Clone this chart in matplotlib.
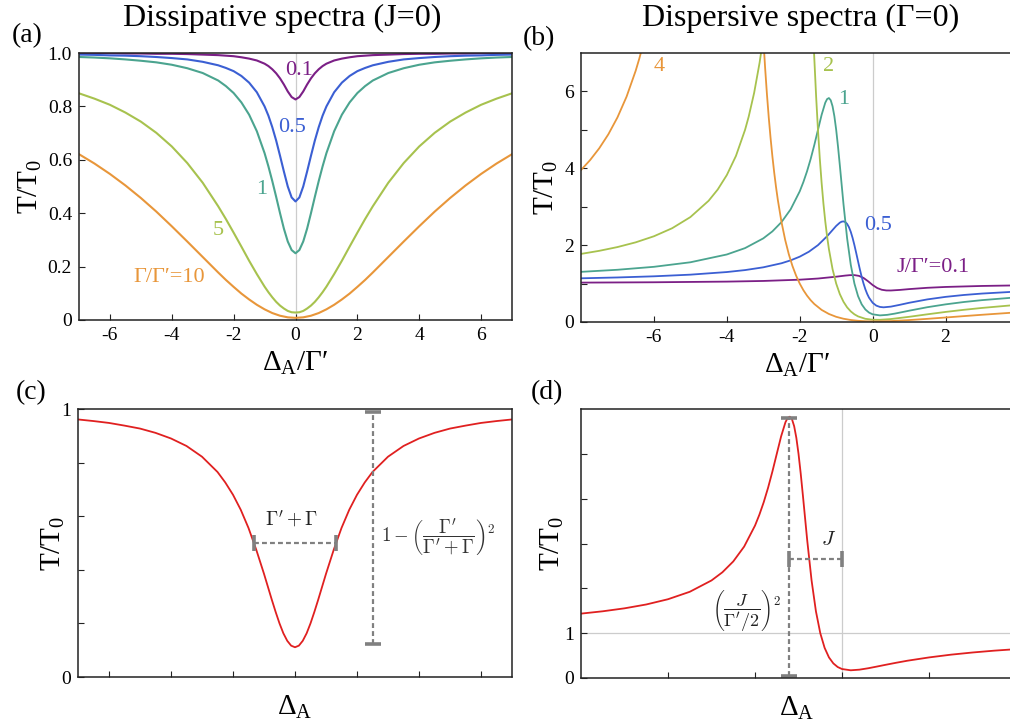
import matplotlib
matplotlib.use('Agg')
import matplotlib.pyplot as plt

# ---- data (T/T0 versus detuning) ----
# (a) dissipative spectra, J=0, labelled by Gamma/Gamma'
x_a = [-7, -6.5, -6, -5.5, -5, -4.5, -4, -3.5, -3, -2.5, -2.25, -2, -1.75, -1.5, -1.25, -1,
       -0.875, -0.75, -0.625, -0.5, -0.375, -0.25, -0.125, 0, 0.125, 0.25, 0.375, 0.5, 0.625, 0.75,
       0.875, 1, 1.25, 1.5, 1.75, 2, 2.25, 2.5, 3, 3.5, 4, 4.5, 5, 5.5, 6, 6.5, 7]
t_g01 = [0.999, 0.999, 0.999, 0.998, 0.998, 0.997, 0.997, 0.996, 0.994, 0.992, 0.990, 0.988, 0.984, 0.979,
         0.972, 0.960, 0.951, 0.939, 0.924, 0.905, 0.882, 0.856, 0.835, 0.826,
         0.835, 0.856, 0.882, 0.905, 0.924, 0.939, 0.951, 0.960, 0.972, 0.979, 0.984, 0.988, 0.990, 0.992,
         0.994, 0.996, 0.997, 0.997, 0.998, 0.998, 0.999, 0.999, 0.999]
t_g05 = [0.994, 0.993, 0.991, 0.990, 0.988, 0.985, 0.981, 0.976, 0.967, 0.954, 0.944, 0.932, 0.914, 0.889,
         0.853, 0.800, 0.765, 0.722, 0.672, 0.615, 0.556, 0.500, 0.459, 0.444,
         0.459, 0.500, 0.556, 0.615, 0.672, 0.722, 0.765, 0.800, 0.853, 0.889, 0.914, 0.932, 0.944, 0.954,
         0.967, 0.976, 0.981, 0.985, 0.988, 0.990, 0.991, 0.993, 0.994]
t_g1 = [0.985, 0.983, 0.980, 0.976, 0.971, 0.965, 0.956, 0.943, 0.925, 0.897, 0.876, 0.850, 0.815, 0.769,
        0.707, 0.625, 0.575, 0.520, 0.461, 0.400, 0.342, 0.294, 0.262, 0.250,
        0.262, 0.294, 0.342, 0.400, 0.461, 0.520, 0.575, 0.625, 0.707, 0.769, 0.815, 0.850, 0.876, 0.897,
        0.925, 0.943, 0.956, 0.965, 0.971, 0.976, 0.980, 0.983, 0.985]
t_g5 = [0.849, 0.829, 0.806, 0.777, 0.743, 0.701, 0.650, 0.588, 0.514, 0.426, 0.378, 0.327, 0.275, 0.222,
        0.172, 0.125, 0.104, 0.085, 0.068, 0.054, 0.043, 0.034, 0.029, 0.028,
        0.029, 0.034, 0.043, 0.054, 0.068, 0.085, 0.104, 0.125, 0.172, 0.222, 0.275, 0.327, 0.378, 0.426,
        0.514, 0.588, 0.650, 0.701, 0.743, 0.777, 0.806, 0.829, 0.849]
t_g10 = [0.621, 0.586, 0.547, 0.504, 0.457, 0.406, 0.351, 0.294, 0.236, 0.178, 0.150, 0.124, 0.099, 0.077,
         0.057, 0.040, 0.033, 0.026, 0.021, 0.016, 0.013, 0.010, 0.009, 0.008,
         0.009, 0.010, 0.013, 0.016, 0.021, 0.026, 0.033, 0.040, 0.057, 0.077, 0.099, 0.124, 0.150, 0.178,
         0.236, 0.294, 0.351, 0.406, 0.457, 0.504, 0.547, 0.586, 0.621]
labels_a = ['0.1', '0.5', '1', '5', 'Γ/Γ′=10']

# (b) dispersive spectra, Gamma=0, labelled by J/Gamma'
x_j01 = [-8, -6, -4, -3, -2, -1.5, -1, -0.75, -0.625, -0.5, -0.375, -0.25, -0.125, 0, 0.125, 0.25, 0.375,
         0.5, 0.75, 1, 1.5, 2, 3, 3.85]
t_j01 = [1.025, 1.034, 1.051, 1.068, 1.101, 1.131, 1.179, 1.208, 1.219, 1.220, 1.200, 1.147, 1.060, 0.962,
         0.884, 0.839, 0.821, 0.820, 0.835, 0.856, 0.890, 0.912, 0.938, 0.951]
x_j05 = [-8, -7, -6, -5, -4, -3.5, -3, -2.5, -2.25, -2, -1.75, -1.5, -1.25, -1.1, -1, -0.9, -0.85, -0.8,
         -0.75, -0.7, -0.65, -0.6, -0.55, -0.5, -0.45, -0.4, -0.35, -0.3, -0.25, -0.2, -0.15, -0.1, 0, 0.1,
         0.2, 0.3, 0.5, 0.75, 1, 1.5, 2, 2.5, 3, 3.85]
t_j05 = [1.137, 1.159, 1.189, 1.232, 1.300, 1.351, 1.423, 1.529, 1.604, 1.700, 1.828, 2.000, 2.231, 2.393,
         2.500, 2.585, 2.611, 2.618, 2.600, 2.552, 2.468, 2.346, 2.188, 2.000, 1.792, 1.577, 1.367, 1.172,
         1.000, 0.853, 0.732, 0.634, 0.500, 0.426, 0.392, 0.382, 0.400, 0.448, 0.500, 0.588, 0.654, 0.703,
         0.740, 0.786]
x_j1 = [-8, -7, -6, -5, -4, -3.5, -3, -2.75, -2.5, -2.25, -2, -1.9, -1.8, -1.7, -1.6, -1.5, -1.4, -1.3,
        -1.25, -1.2, -1.15, -1.1, -1.05, -1, -0.95, -0.9, -0.8, -0.7, -0.6, -0.5, -0.4, -0.3, -0.2, -0.1,
        0, 0.2, 0.4, 0.6, 0.8, 1, 1.5, 2, 2.5, 3, 3.85]
t_j1 = [1.305, 1.359, 1.436, 1.554, 1.757, 1.923, 2.176, 2.358, 2.600, 2.931, 3.400, 3.642, 3.921, 4.243,
        4.607, 5.000, 5.390, 5.706, 5.800, 5.828, 5.771, 5.615, 5.356, 5.000, 4.564, 4.077, 3.069, 2.176,
        1.488, 1.000, 0.672, 0.459, 0.326, 0.245, 0.200, 0.172, 0.186, 0.217, 0.255, 0.294, 0.385, 0.459,
        0.520, 0.569, 0.634]
x_j2 = [-8, -7.5, -7, -6.5, -6, -5.5, -5, -4.5, -4.25, -4, -3.75, -3.5, -3.4, -3.25, -3.1, -3, -2.9, -2.8,
        -2.5, -2.1, -1.8, -1.75, -1.7, -1.65, -1.6, -1.55, -1.5, -1.45, -1.4, -1.35, -1.3, -1.25, -1.2,
        -1.1, -1, -0.9, -0.8, -0.7, -0.6, -0.5, -0.4, -0.2, 0, 0.2, 0.5, 1, 1.5, 2, 2.5, 3, 3.85]
t_j2 = [1.772, 1.852, 1.950, 2.073, 2.231, 2.440, 2.730, 3.154, 3.447, 3.824, 4.321, 5.000, 5.344, 5.966,
        6.753, 7.400, 8.170, 9.090, 13.00, 17.92, 12.03, 10.60, 9.235, 7.980, 6.854, 5.862, 5.000, 4.258,
        3.623, 3.082, 2.622, 2.231, 1.899, 1.377, 1.000, 0.726, 0.527, 0.381, 0.276, 0.200, 0.146, 0.083,
        0.059, 0.057, 0.077, 0.135, 0.200, 0.262, 0.317, 0.366, 0.437]
x_j4 = [-8, -7.75, -7.5, -7.25, -7, -6.75, -6.5, -6.4, -6.3, -6, -5, -4, -3, -2.95, -2.9, -2.85, -2.8,
        -2.75, -2.7, -2.65, -2.6, -2.5, -2.4, -2.3, -2.2, -2.1, -2, -1.9, -1.8, -1.7, -1.6, -1.4, -1.2, -1,
        -0.8, -0.6, -0.4, -0.2, 0, 0.5, 1, 1.5, 2, 2.5, 3, 3.85]
t_j4 = [3.954, 4.214, 4.520, 4.884, 5.324, 5.864, 6.538, 6.857, 7.209, 8.529, 20.20, 65.00, 7.400, 6.619,
        5.932, 5.324, 4.787, 4.310, 3.887, 3.509, 3.172, 2.600, 2.139, 1.764, 1.458, 1.207, 1.000, 0.828,
        0.686, 0.567, 0.468, 0.315, 0.209, 0.135, 0.085, 0.052, 0.031, 0.020, 0.015, 0.024, 0.050, 0.082,
        0.117, 0.153, 0.188, 0.244]
labels_b = ['J/Γ′=0.1', '0.5', '1', '2', '4']

# (c) single dissipative dip
x_c = x_a
t_c = [0.961, 0.955, 0.948, 0.938, 0.927, 0.911, 0.890, 0.862, 0.822, 0.765, 0.726, 0.680, 0.624, 0.556,
       0.475, 0.385, 0.337, 0.289, 0.243, 0.200, 0.163, 0.135, 0.117, 0.111,
       0.117, 0.135, 0.163, 0.200, 0.243, 0.289, 0.337, 0.385, 0.475, 0.556, 0.624, 0.680, 0.726, 0.765,
       0.822, 0.862, 0.890, 0.911, 0.927, 0.938, 0.948, 0.955, 0.961]

# (d) single dispersive line
x_d = [-6, -5.5, -5, -4.5, -4, -3.5, -3, -2.75, -2.5, -2.25, -2, -1.9, -1.8, -1.7, -1.6, -1.5, -1.4, -1.3,
       -1.25, -1.2, -1.15, -1.1, -1.05, -1, -0.95, -0.9, -0.8, -0.7, -0.6, -0.5, -0.4, -0.3, -0.2, -0.1, 0,
       0.2, 0.4, 0.6, 0.8, 1, 1.25, 1.5, 2, 2.5, 3, 3.5, 3.95]
t_d = [1.436, 1.488, 1.554, 1.640, 1.757, 1.923, 2.176, 2.358, 2.600, 2.931, 3.400, 3.642, 3.921, 4.243,
       4.607, 5.000, 5.390, 5.706, 5.800, 5.828, 5.771, 5.615, 5.356, 5.000, 4.564, 4.077, 3.069, 2.176,
       1.488, 1.000, 0.672, 0.459, 0.326, 0.245, 0.200, 0.172, 0.186, 0.217, 0.255, 0.294, 0.341, 0.385,
       0.459, 0.520, 0.569, 0.610, 0.640]

colors = ['#7b1f86', '#3b5fd3', '#4ba48f', '#a7c24e', '#e8963a']
red = '#e02020'
grey = '#808080'

plt.rcParams['font.family'] = ['Liberation Serif', 'DejaVu Serif']
plt.rcParams['mathtext.fontset'] = 'custom'
plt.rcParams['mathtext.rm'] = 'Liberation Serif'
plt.rcParams['mathtext.it'] = 'Liberation Serif:italic'

fig = plt.figure(figsize=(10.1, 7.28), dpi=100)


def px_axes(l, t, r, b):
    return fig.add_axes([l / 1010, 1 - b / 728, (r - l) / 1010, (b - t) / 728])


ax_a = px_axes(79, 53, 512, 320)
ax_b = px_axes(581, 53, 1013, 322)
ax_c = px_axes(78, 409, 512, 677)
ax_d = px_axes(581, 409, 1013, 678)

for ax in [ax_a, ax_b, ax_c, ax_d]:
    for s in ax.spines.values():
        s.set_linewidth(1.1)
        s.set_color('#222222')
    ax.tick_params(which='both', direction='in', length=4, width=0.8, labelsize=14,
                   top=False, right=False, pad=5, colors='#222222', labelcolor='black')

ylab = r'T/T$_\mathrm{0}$'
xlab = r'Δ$_\mathrm{A}$/Γ′'

# ---- (a) ----
ax_a.axvline(0, color='#cccccc', lw=0.9, zorder=0)
for t, c in zip([t_g01, t_g05, t_g1, t_g5, t_g10], colors):
    ax_a.plot(x_a, t, color=c, lw=1.5)
ax_a.set_xlim(-7, 7)
ax_a.set_ylim(0, 1)
ax_a.set_xticks([-6, -4, -2, 0, 2, 4, 6])
ax_a.set_xticklabels(['-6', '-4', '-2', '0', '2', '4', '6'])
ax_a.set_yticks([0, 0.2, 0.4, 0.6, 0.8, 1.0])
ax_a.set_yticklabels(['0', '0.2', '0.4', '0.6', '0.8', '1.0'])
ax_a.set_xlabel(xlab, fontsize=21, labelpad=4)
ax_a.set_ylabel(ylab, fontsize=21, labelpad=3)
pos_a = [(0.1, 0.935), (-0.1, 0.72), (-1.1, 0.487), (-2.5, 0.337), (-4.1, 0.16)]
for (tx, ty), lab, c in zip(pos_a, labels_a, colors):
    ax_a.text(tx, ty, lab, color=c, fontsize=16, ha='center', va='center')

# ---- (b) ----
ax_b.axvline(0, color='#cccccc', lw=0.9, zorder=0)
for xs, t, c in zip([x_j01, x_j05, x_j1, x_j2, x_j4], [t_j01, t_j05, t_j1, t_j2, t_j4], colors):
    ax_b.plot(xs, t, color=c, lw=1.3)
ax_b.set_xlim(-8, 3.85)
ax_b.set_ylim(0, 7)
ax_b.set_xticks([-6, -4, -2, 0, 2])
ax_b.set_xticklabels(['-6', '-4', '-2', '0', '2'])
ax_b.set_yticks([0, 2, 4, 6])
ax_b.set_yticks([1, 3, 5], minor=True)
ax_b.set_xlabel(xlab, fontsize=21, labelpad=4)
ax_b.set_ylabel(ylab, fontsize=21, labelpad=3)
pos_b = [(1.65, 1.43), (0.15, 2.51), (-0.8, 5.78), (-1.2, 6.66), (-5.85, 6.66)]
for (tx, ty), lab, c in zip(pos_b, labels_b, colors):
    ax_b.text(tx, ty, lab, color=c, fontsize=16, ha='center', va='center')

# ---- (c) ----
ax_c.plot(x_c, t_c, color=red, lw=1.3)
ax_c.set_xlim(-7, 7)
ax_c.set_ylim(0, 1)
ax_c.set_xticks([-6, -4, -2, 0, 2, 4, 6])
ax_c.set_xticklabels([])
ax_c.set_yticks([0, 0.2, 0.4, 0.6, 0.8, 1.0])
ax_c.set_yticklabels(['0', '', '', '', '', '1'])
ax_c.set_xlabel(r'Δ$_\mathrm{A}$', fontsize=21, labelpad=7)
ax_c.set_ylabel(ylab, fontsize=21, labelpad=-4)
dash = dict(color=grey, lw=1.6, ls=(0, (2.2, 1.4)))
cap = dict(color=grey, ls='none', ms=12, mew=2.6)
ax_c.plot([-1.32, 1.32], [0.5, 0.5], **dash)
ax_c.plot([-1.32, 1.32], [0.5, 0.5], marker='|', **cap)
ax_c.plot([2.5, 2.5], [0.123, 0.988], **dash)
ax_c.plot([2.5, 2.5], [0.123, 0.988], marker='_', **cap)
ax_c.text(-0.1, 0.59, r"$\Gamma' + \Gamma$", fontsize=14, ha='center', va='center',
          math_fontfamily='cm', color='#222222')
ax_c.text(4.62, 0.52, r"$1-\left(\dfrac{\Gamma'}{\Gamma'+\Gamma}\right)^2$", fontsize=13.5,
          ha='center', va='center', math_fontfamily='cm', color='#333333')

# ---- (d) ----
ax_d.axvline(0, color='#cccccc', lw=0.9, zorder=0)
ax_d.axhline(1, color='#cccccc', lw=0.9, zorder=0)
ax_d.plot(x_d, t_d, color=red, lw=1.3)
ax_d.set_xlim(-6, 3.93)
ax_d.set_ylim(0, 6)
ax_d.set_xticks([-4, -2, 0, 2])
ax_d.set_xticklabels([])
ax_d.set_yticks([0, 1, 2, 3, 4, 5])
ax_d.set_yticklabels(['0', '1', '', '', '', ''])
ax_d.set_xlabel(r'Δ$_\mathrm{A}$', fontsize=21, labelpad=7)
ax_d.set_ylabel(ylab, fontsize=21, labelpad=-1)
ax_d.plot([-1.21, -1.21], [0.04, 5.8], **dash)
ax_d.plot([-1.21, -1.21], [0.04, 5.8], marker='_', **cap)
ax_d.plot([-1.21, 0], [2.66, 2.66], **dash)
ax_d.plot([-1.21, 0], [2.66, 2.66], marker='|', **cap)
ax_d.text(-0.3, 3.07, r'$J$', fontsize=15, ha='center', va='center', math_fontfamily='cm', color='#222222')
ax_d.text(-2.2, 1.51, r"$\left(\dfrac{J}{\Gamma'/2}\right)^2$", fontsize=13, ha='center', va='center',
          math_fontfamily='cm', color='#222222')

# ---- titles and panel tags ----
fig.text(282 / 1010, 1 - 18 / 728, 'Dissipative spectra (J=0)', fontsize=23, ha='center', va='center')
fig.text(801 / 1010, 1 - 18 / 728, 'Dispersive spectra (Γ=0)', fontsize=23, ha='center', va='center')
for tag, xp, yp in [('(a)', 12, 36), ('(b)', 523, 39), ('(c)', 16, 393), ('(d)', 531, 393)]:
    fig.text(xp / 1010, 1 - yp / 728, tag, fontsize=20, ha='left', va='center')

fig.savefig('out.png', dpi=100)
